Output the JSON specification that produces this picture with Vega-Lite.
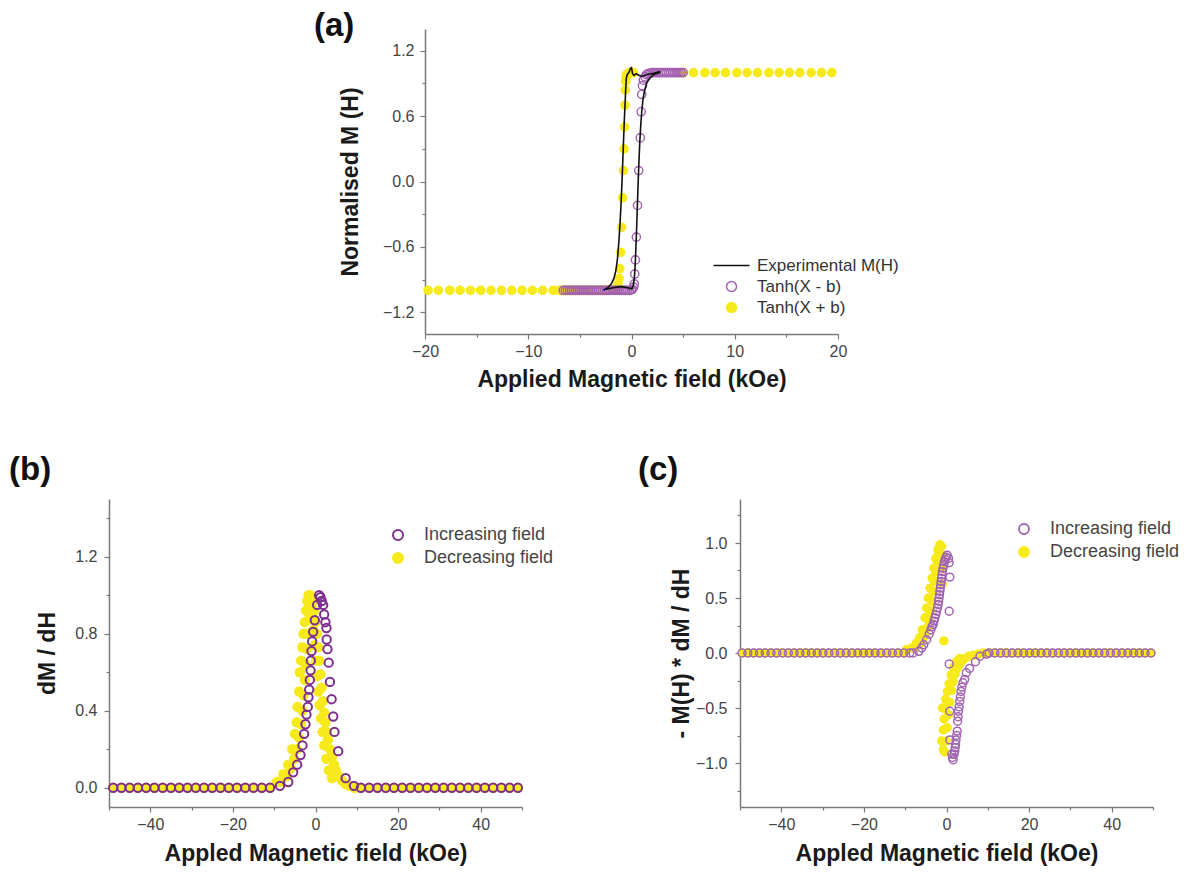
{
  "$schema": "https://vega.github.io/schema/vega-lite/v6.json",
  "background": "white",
  "padding": {"left": 9, "top": 10, "right": 5, "bottom": 5},
  "config": {
    "view": {"stroke": null},
    "font": "Liberation Sans",
    "axis": {"grid": false, "domainColor": "#7a7a7a", "domainWidth": 1.5, "tickColor": "#7a7a7a", "tickWidth": 1.2, "labelFont": "Liberation Sans", "labelFontSize": 16, "labelColor": "#444444", "titleFont": "Liberation Sans", "titleFontSize": 23, "titleFontWeight": "bold", "titleColor": "#1a1a1a", "labelFlush": false, "labelOverlap": false},
    "title": {"anchor": "start", "frame": "group", "font": "Liberation Sans", "fontSize": 33, "fontWeight": "bold", "color": "#111111"}
  },
  "datasets": {
    "a_line": [
      {"i":0,"x":2.8,"y":1.01,"s":"E"},{"i":1,"x":2.4,"y":1.0,"s":"E"},{"i":2,"x":2.0,"y":0.99,"s":"E"},{"i":3,"x":1.6,"y":0.985,"s":"E"},{"i":4,"x":1.3,"y":0.975,"s":"E"},{"i":5,"x":1.0,"y":0.965,"s":"E"},{"i":6,"x":0.7,"y":0.975,"s":"E"},{"i":7,"x":0.45,"y":0.99,"s":"E"},{"i":8,"x":0.25,"y":0.975,"s":"E"},{"i":9,"x":0.1,"y":0.99,"s":"E"},{"i":10,"x":0.0,"y":1.045,"s":"E"},{"i":11,"x":-0.1,"y":1.04,"s":"E"},{"i":12,"x":-0.25,"y":1.0,"s":"E"},{"i":13,"x":-0.4,"y":0.985,"s":"E"},{"i":14,"x":-0.5,"y":0.95,"s":"E"},{"i":15,"x":-0.56,"y":0.85,"s":"E"},{"i":16,"x":-0.62,"y":0.72,"s":"E"},{"i":17,"x":-0.7,"y":0.55,"s":"E"},{"i":18,"x":-0.78,"y":0.35,"s":"E"},{"i":19,"x":-0.86,"y":0.15,"s":"E"},{"i":20,"x":-0.94,"y":-0.05,"s":"E"},{"i":21,"x":-1.02,"y":-0.22,"s":"E"},{"i":22,"x":-1.12,"y":-0.4,"s":"E"},{"i":23,"x":-1.22,"y":-0.55,"s":"E"},{"i":24,"x":-1.35,"y":-0.7,"s":"E"},{"i":25,"x":-1.5,"y":-0.81,"s":"E"},{"i":26,"x":-1.7,"y":-0.89,"s":"E"},{"i":27,"x":-1.95,"y":-0.94,"s":"E"},{"i":28,"x":-2.3,"y":-0.975,"s":"E"},{"i":29,"x":-2.75,"y":-1.0,"s":"E"},
      {"i":30,"x":-2.6,"y":-0.99,"s":"E"},{"i":31,"x":-2.2,"y":-0.985,"s":"E"},{"i":32,"x":-1.8,"y":-0.975,"s":"E"},{"i":33,"x":-1.4,"y":-0.97,"s":"E"},{"i":34,"x":-1.0,"y":-0.965,"s":"E"},{"i":35,"x":-0.7,"y":-0.97,"s":"E"},{"i":36,"x":-0.4,"y":-0.975,"s":"E"},{"i":37,"x":-0.15,"y":-0.98,"s":"E"},{"i":38,"x":0.05,"y":-0.985,"s":"E"},{"i":39,"x":0.18,"y":-0.95,"s":"E"},{"i":40,"x":0.28,"y":-0.88,"s":"E"},{"i":41,"x":0.36,"y":-0.76,"s":"E"},{"i":42,"x":0.43,"y":-0.6,"s":"E"},{"i":43,"x":0.5,"y":-0.42,"s":"E"},{"i":44,"x":0.57,"y":-0.22,"s":"E"},{"i":45,"x":0.64,"y":-0.02,"s":"E"},{"i":46,"x":0.72,"y":0.18,"s":"E"},{"i":47,"x":0.8,"y":0.36,"s":"E"},{"i":48,"x":0.9,"y":0.52,"s":"E"},{"i":49,"x":1.0,"y":0.65,"s":"E"},{"i":50,"x":1.12,"y":0.76,"s":"E"},{"i":51,"x":1.28,"y":0.84,"s":"E"},{"i":52,"x":1.5,"y":0.91,"s":"E"},{"i":53,"x":1.8,"y":0.95,"s":"E"},{"i":54,"x":2.2,"y":0.985,"s":"E"},{"i":55,"x":2.8,"y":1.0,"s":"E"}
    ],
    "a_pts": [
      {"x":-19.7,"y":-1,"s":"P"},{"x":-18.7,"y":-1,"s":"P"},{"x":-17.6,"y":-1,"s":"P"},{"x":-16.6,"y":-1,"s":"P"},{"x":-15.6,"y":-1,"s":"P"},{"x":-14.6,"y":-1,"s":"P"},{"x":-13.6,"y":-1,"s":"P"},{"x":-12.6,"y":-1,"s":"P"},{"x":-11.6,"y":-1,"s":"P"},{"x":-10.6,"y":-1,"s":"P"},{"x":-9.6,"y":-1,"s":"P"},{"x":-8.6,"y":-1,"s":"P"},{"x":-7.6,"y":-1,"s":"P"},
      {"x":-7.0,"y":-1,"s":"P"},{"x":-6.8,"y":-1,"s":"P"},{"x":-6.6,"y":-1,"s":"P"},{"x":-6.4,"y":-1,"s":"P"},{"x":-6.2,"y":-1,"s":"P"},{"x":-6.0,"y":-1,"s":"P"},{"x":-5.8,"y":-1,"s":"P"},{"x":-5.6,"y":-1,"s":"P"},{"x":-5.4,"y":-1,"s":"P"},{"x":-5.2,"y":-1,"s":"P"},{"x":-5.0,"y":-1,"s":"P"},{"x":-4.8,"y":-1,"s":"P"},{"x":-4.6,"y":-1,"s":"P"},{"x":-4.4,"y":-1,"s":"P"},{"x":-4.2,"y":-1,"s":"P"},{"x":-4.0,"y":-1,"s":"P"},{"x":-3.8,"y":-1,"s":"P"},{"x":-3.6,"y":-1,"s":"P"},{"x":-3.4,"y":-1,"s":"P"},{"x":-3.2,"y":-1,"s":"P"},{"x":-3.0,"y":-1,"s":"P"},{"x":-2.8,"y":-1,"s":"P"},{"x":-2.6,"y":-1,"s":"P"},{"x":-2.4,"y":-1,"s":"P"},{"x":-2.2,"y":-0.995,"s":"P"},{"x":-2.0,"y":-0.995,"s":"P"},{"x":-1.8,"y":-0.995,"s":"P"},{"x":-1.6,"y":-0.99,"s":"P"},
      {"x":-1.5,"y":-0.985,"s":"P"},{"x":-1.4,"y":-0.97,"s":"P"},{"x":-1.3,"y":-0.94,"s":"P"},{"x":-1.2,"y":-0.89,"s":"P"},{"x":-1.13,"y":-0.8,"s":"P"},{"x":-1.05,"y":-0.65,"s":"P"},{"x":-0.96,"y":-0.42,"s":"P"},{"x":-0.86,"y":-0.15,"s":"P"},{"x":-0.78,"y":0.1,"s":"P"},{"x":-0.72,"y":0.3,"s":"P"},{"x":-0.67,"y":0.5,"s":"P"},{"x":-0.63,"y":0.7,"s":"P"},{"x":-0.6,"y":0.84,"s":"P"},{"x":-0.56,"y":0.92,"s":"P"},{"x":-0.52,"y":0.96,"s":"P"},{"x":-0.48,"y":0.98,"s":"P"},
      {"x":-0.4,"y":0.99,"s":"P"},{"x":-0.2,"y":1,"s":"P"},{"x":0.0,"y":1,"s":"P"},{"x":0.2,"y":1,"s":"P"},
      {"x":5.0,"y":1,"s":"P"},{"x":6.0,"y":1,"s":"P"},{"x":7.1,"y":1,"s":"P"},{"x":8.1,"y":1,"s":"P"},{"x":9.1,"y":1,"s":"P"},{"x":10.2,"y":1,"s":"P"},{"x":11.2,"y":1,"s":"P"},{"x":12.2,"y":1,"s":"P"},{"x":13.3,"y":1,"s":"P"},{"x":14.3,"y":1,"s":"P"},{"x":15.3,"y":1,"s":"P"},{"x":16.3,"y":1,"s":"P"},{"x":17.4,"y":1,"s":"P"},{"x":18.4,"y":1,"s":"P"},{"x":19.4,"y":1,"s":"P"},
      {"x":-6.6,"y":-1,"s":"M"},{"x":-6.4,"y":-1,"s":"M"},{"x":-6.2,"y":-1,"s":"M"},{"x":-6.0,"y":-1,"s":"M"},{"x":-5.8,"y":-1,"s":"M"},{"x":-5.6,"y":-1,"s":"M"},{"x":-5.4,"y":-1,"s":"M"},{"x":-5.2,"y":-1,"s":"M"},{"x":-5.0,"y":-1,"s":"M"},{"x":-4.8,"y":-1,"s":"M"},{"x":-4.6,"y":-1,"s":"M"},{"x":-4.4,"y":-1,"s":"M"},{"x":-4.2,"y":-1,"s":"M"},{"x":-4.0,"y":-1,"s":"M"},{"x":-3.8,"y":-1,"s":"M"},{"x":-3.6,"y":-1,"s":"M"},{"x":-3.4,"y":-1,"s":"M"},{"x":-3.2,"y":-1,"s":"M"},{"x":-3.0,"y":-1,"s":"M"},{"x":-2.8,"y":-1,"s":"M"},{"x":-2.6,"y":-1,"s":"M"},{"x":-2.4,"y":-1,"s":"M"},{"x":-2.2,"y":-1,"s":"M"},{"x":-2.0,"y":-1,"s":"M"},{"x":-1.8,"y":-1,"s":"M"},{"x":-1.6,"y":-1,"s":"M"},{"x":-1.4,"y":-1,"s":"M"},{"x":-1.2,"y":-1,"s":"M"},{"x":-1.0,"y":-1,"s":"M"},{"x":-0.8,"y":-1,"s":"M"},{"x":-0.6,"y":-1,"s":"M"},{"x":-0.4,"y":-1,"s":"M"},{"x":-0.2,"y":-1,"s":"M"},{"x":0.0,"y":-0.995,"s":"M"},
      {"x":0.1,"y":-0.99,"s":"M"},{"x":0.2,"y":-0.97,"s":"M"},{"x":0.27,"y":-0.94,"s":"M"},{"x":0.32,"y":-0.85,"s":"M"},{"x":0.38,"y":-0.72,"s":"M"},{"x":0.47,"y":-0.51,"s":"M"},{"x":0.58,"y":-0.22,"s":"M"},{"x":0.7,"y":0.1,"s":"M"},{"x":0.85,"y":0.4,"s":"M"},{"x":0.94,"y":0.64,"s":"M"},{"x":0.99,"y":0.8,"s":"M"},{"x":1.06,"y":0.88,"s":"M"},{"x":1.15,"y":0.93,"s":"M"},{"x":1.3,"y":0.96,"s":"M"},{"x":1.45,"y":0.98,"s":"M"},
      {"x":1.6,"y":0.99,"s":"M"},{"x":1.8,"y":0.995,"s":"M"},{"x":2.0,"y":1,"s":"M"},{"x":2.2,"y":1,"s":"M"},{"x":2.4,"y":1,"s":"M"},{"x":2.6,"y":1,"s":"M"},{"x":2.8,"y":1,"s":"M"},{"x":3.0,"y":1,"s":"M"},{"x":3.2,"y":1,"s":"M"},{"x":3.4,"y":1,"s":"M"},{"x":3.6,"y":1,"s":"M"},{"x":3.8,"y":1,"s":"M"},{"x":4.0,"y":1,"s":"M"},{"x":4.2,"y":1,"s":"M"},{"x":4.4,"y":1,"s":"M"},{"x":4.6,"y":1,"s":"M"},{"x":4.8,"y":1,"s":"M"},{"x":5.0,"y":1,"s":"M"}
    ],
    "b_pts": [
      {"x":-49,"y":0,"s":"D"},{"x":-47,"y":0,"s":"D"},{"x":-45,"y":0,"s":"D"},{"x":-43,"y":0,"s":"D"},{"x":-41,"y":0,"s":"D"},{"x":-39,"y":0,"s":"D"},{"x":-37,"y":0,"s":"D"},{"x":-35,"y":0,"s":"D"},{"x":-33,"y":0,"s":"D"},{"x":-31,"y":0,"s":"D"},{"x":-29,"y":0,"s":"D"},{"x":-27,"y":0,"s":"D"},{"x":-25,"y":0,"s":"D"},{"x":-23,"y":0,"s":"D"},{"x":-21,"y":0,"s":"D"},{"x":-19,"y":0,"s":"D"},{"x":-17,"y":0,"s":"D"},{"x":-15,"y":0,"s":"D"},{"x":-13,"y":0,"s":"D"},{"x":-11,"y":0,"s":"D"},
      {"x":-9.4,"y":0.03,"s":"D"},{"x":-7.8,"y":0.07,"s":"D"},{"x":-6.6,"y":0.12,"s":"D"},{"x":-5.65,"y":0.2,"s":"D"},{"x":-5.0,"y":0.28,"s":"D"},{"x":-4.6,"y":0.34,"s":"D"},{"x":-4.36,"y":0.42,"s":"D"},{"x":-3.96,"y":0.5,"s":"D"},{"x":-3.8,"y":0.6,"s":"D"},{"x":-3.5,"y":0.66,"s":"D"},{"x":-3.2,"y":0.73,"s":"D"},{"x":-2.9,"y":0.8,"s":"D"},{"x":-2.6,"y":0.86,"s":"D"},{"x":-2.3,"y":0.92,"s":"D"},{"x":-2.0,"y":0.97,"s":"D"},{"x":-1.7,"y":1.0,"s":"D"},
      {"x":-8.5,"y":0.03,"s":"D"},{"x":-7.0,"y":0.06,"s":"D"},{"x":-6.0,"y":0.1,"s":"D"},{"x":-5.2,"y":0.15,"s":"D"},{"x":-4.5,"y":0.2,"s":"D"},{"x":-4.0,"y":0.26,"s":"D"},{"x":-3.5,"y":0.33,"s":"D"},{"x":-3.2,"y":0.4,"s":"D"},{"x":-2.9,"y":0.48,"s":"D"},{"x":-2.6,"y":0.56,"s":"D"},{"x":-2.4,"y":0.64,"s":"D"},{"x":-2.1,"y":0.72,"s":"D"},{"x":-1.8,"y":0.8,"s":"D"},{"x":-1.5,"y":0.88,"s":"D"},{"x":-1.2,"y":0.95,"s":"D"},{"x":-1.0,"y":0.99,"s":"D"},{"x":-1.3,"y":1.0,"s":"D"},
      {"x":-0.6,"y":0.97,"s":"D"},{"x":-0.3,"y":0.92,"s":"D"},{"x":0.0,"y":0.86,"s":"D"},{"x":0.3,"y":0.8,"s":"D"},{"x":0.6,"y":0.73,"s":"D"},{"x":0.9,"y":0.66,"s":"D"},{"x":1.2,"y":0.59,"s":"D"},{"x":1.5,"y":0.52,"s":"D"},{"x":1.8,"y":0.45,"s":"D"},{"x":2.1,"y":0.39,"s":"D"},{"x":2.4,"y":0.34,"s":"D"},{"x":2.7,"y":0.29,"s":"D"},{"x":3.0,"y":0.25,"s":"D"},{"x":3.5,"y":0.2,"s":"D"},{"x":4.0,"y":0.16,"s":"D"},{"x":4.5,"y":0.12,"s":"D"},{"x":5.0,"y":0.09,"s":"D"},{"x":5.6,"y":0.06,"s":"D"},{"x":6.3,"y":0.04,"s":"D"},{"x":7.2,"y":0.02,"s":"D"},{"x":8.2,"y":0.01,"s":"D"},
      {"x":-0.8,"y":0.9,"s":"D"},{"x":-0.5,"y":0.82,"s":"D"},{"x":-0.2,"y":0.74,"s":"D"},{"x":0.1,"y":0.66,"s":"D"},{"x":0.4,"y":0.58,"s":"D"},{"x":0.7,"y":0.5,"s":"D"},{"x":1.0,"y":0.43,"s":"D"},{"x":1.3,"y":0.36,"s":"D"},{"x":1.7,"y":0.29,"s":"D"},{"x":2.1,"y":0.22,"s":"D"},{"x":2.6,"y":0.15,"s":"D"},{"x":3.2,"y":0.09,"s":"D"},{"x":4.0,"y":0.05,"s":"D"},
      {"x":9.5,"y":0,"s":"D"},{"x":11,"y":0,"s":"D"},{"x":13,"y":0,"s":"D"},{"x":15,"y":0,"s":"D"},{"x":17,"y":0,"s":"D"},{"x":19,"y":0,"s":"D"},{"x":21,"y":0,"s":"D"},{"x":23,"y":0,"s":"D"},{"x":25,"y":0,"s":"D"},{"x":27,"y":0,"s":"D"},{"x":29,"y":0,"s":"D"},{"x":31,"y":0,"s":"D"},{"x":33,"y":0,"s":"D"},{"x":35,"y":0,"s":"D"},{"x":37,"y":0,"s":"D"},{"x":39,"y":0,"s":"D"},{"x":41,"y":0,"s":"D"},{"x":43,"y":0,"s":"D"},{"x":45,"y":0,"s":"D"},{"x":47,"y":0,"s":"D"},{"x":49,"y":0,"s":"D"},
      {"x":-49,"y":0,"s":"I"},{"x":-47,"y":0,"s":"I"},{"x":-45,"y":0,"s":"I"},{"x":-43,"y":0,"s":"I"},{"x":-41,"y":0,"s":"I"},{"x":-39,"y":0,"s":"I"},{"x":-37,"y":0,"s":"I"},{"x":-35,"y":0,"s":"I"},{"x":-33,"y":0,"s":"I"},{"x":-31,"y":0,"s":"I"},{"x":-29,"y":0,"s":"I"},{"x":-27,"y":0,"s":"I"},{"x":-25,"y":0,"s":"I"},{"x":-23,"y":0,"s":"I"},{"x":-21,"y":0,"s":"I"},{"x":-19,"y":0,"s":"I"},{"x":-17,"y":0,"s":"I"},{"x":-15,"y":0,"s":"I"},{"x":-13,"y":0,"s":"I"},{"x":-11,"y":0,"s":"I"},
      {"x":-8.6,"y":0.01,"s":"I"},{"x":-6.6,"y":0.03,"s":"I"},{"x":-5.4,"y":0.08,"s":"I"},{"x":-4.44,"y":0.12,"s":"I"},{"x":-3.63,"y":0.17,"s":"I"},{"x":-3.15,"y":0.22,"s":"I"},{"x":-2.75,"y":0.28,"s":"I"},{"x":-2.42,"y":0.33,"s":"I"},{"x":-2.18,"y":0.38,"s":"I"},{"x":-1.86,"y":0.42,"s":"I"},{"x":-1.7,"y":0.47,"s":"I"},{"x":-1.53,"y":0.51,"s":"I"},{"x":-1.37,"y":0.56,"s":"I"},{"x":-1.2,"y":0.61,"s":"I"},{"x":-1.13,"y":0.66,"s":"I"},{"x":-0.97,"y":0.71,"s":"I"},{"x":-0.81,"y":0.76,"s":"I"},{"x":-0.57,"y":0.81,"s":"I"},{"x":-0.17,"y":0.87,"s":"I"},{"x":0.4,"y":0.95,"s":"I"},{"x":0.88,"y":1.0,"s":"I"},
      {"x":1.2,"y":0.99,"s":"I"},{"x":1.5,"y":0.97,"s":"I"},{"x":1.85,"y":0.95,"s":"I"},{"x":2.1,"y":0.9,"s":"I"},{"x":2.4,"y":0.86,"s":"I"},{"x":2.65,"y":0.83,"s":"I"},{"x":2.7,"y":0.77,"s":"I"},{"x":2.9,"y":0.72,"s":"I"},{"x":3.2,"y":0.65,"s":"I"},{"x":3.5,"y":0.55,"s":"I"},{"x":3.9,"y":0.46,"s":"I"},{"x":4.3,"y":0.37,"s":"I"},{"x":4.6,"y":0.29,"s":"I"},{"x":5.5,"y":0.19,"s":"I"},{"x":7.3,"y":0.05,"s":"I"},{"x":9.3,"y":0.01,"s":"I"},
      {"x":11,"y":0,"s":"I"},{"x":13,"y":0,"s":"I"},{"x":15,"y":0,"s":"I"},{"x":17,"y":0,"s":"I"},{"x":19,"y":0,"s":"I"},{"x":21,"y":0,"s":"I"},{"x":23,"y":0,"s":"I"},{"x":25,"y":0,"s":"I"},{"x":27,"y":0,"s":"I"},{"x":29,"y":0,"s":"I"},{"x":31,"y":0,"s":"I"},{"x":33,"y":0,"s":"I"},{"x":35,"y":0,"s":"I"},{"x":37,"y":0,"s":"I"},{"x":39,"y":0,"s":"I"},{"x":41,"y":0,"s":"I"},{"x":43,"y":0,"s":"I"},{"x":45,"y":0,"s":"I"},{"x":47,"y":0,"s":"I"},{"x":49,"y":0,"s":"I"}
    ],
    "c_pts": [
      {"x":-49.5,"y":0,"s":"D"},{"x":-48.1,"y":0,"s":"D"},{"x":-46.7,"y":0,"s":"D"},{"x":-45.3,"y":0,"s":"D"},{"x":-43.9,"y":0,"s":"D"},{"x":-42.5,"y":0,"s":"D"},{"x":-41.1,"y":0,"s":"D"},{"x":-39.7,"y":0,"s":"D"},{"x":-38.3,"y":0,"s":"D"},{"x":-36.9,"y":0,"s":"D"},{"x":-35.5,"y":0,"s":"D"},{"x":-34.1,"y":0,"s":"D"},{"x":-32.7,"y":0,"s":"D"},{"x":-31.3,"y":0,"s":"D"},{"x":-29.9,"y":0,"s":"D"},{"x":-28.5,"y":0,"s":"D"},{"x":-27.1,"y":0,"s":"D"},{"x":-25.7,"y":0,"s":"D"},{"x":-24.3,"y":0,"s":"D"},{"x":-22.9,"y":0,"s":"D"},{"x":-21.5,"y":0,"s":"D"},{"x":-20.1,"y":0,"s":"D"},{"x":-18.7,"y":0,"s":"D"},{"x":-17.3,"y":0,"s":"D"},{"x":-15.9,"y":0,"s":"D"},{"x":-14.5,"y":0,"s":"D"},{"x":-13.1,"y":0,"s":"D"},{"x":-11.7,"y":0,"s":"D"},{"x":-10.3,"y":0,"s":"D"},
      {"x":-9.7,"y":0.03,"s":"D"},{"x":-8.5,"y":0.045,"s":"D"},{"x":-7.3,"y":0.09,"s":"D"},{"x":-6.5,"y":0.14,"s":"D"},{"x":-5.9,"y":0.21,"s":"D"},{"x":-5.2,"y":0.32,"s":"D"},{"x":-4.8,"y":0.41,"s":"D"},{"x":-4.4,"y":0.5,"s":"D"},{"x":-4.0,"y":0.59,"s":"D"},{"x":-3.5,"y":0.68,"s":"D"},{"x":-3.1,"y":0.77,"s":"D"},{"x":-2.6,"y":0.86,"s":"D"},{"x":-2.1,"y":0.94,"s":"D"},{"x":-1.6,"y":0.985,"s":"D"},{"x":-1.2,"y":0.97,"s":"D"},{"x":-1.0,"y":0.89,"s":"D"},{"x":-1.0,"y":0.77,"s":"D"},{"x":-1.0,"y":0.63,"s":"D"},
      {"x":-7.5,"y":0.05,"s":"D"},{"x":-6.5,"y":0.08,"s":"D"},{"x":-5.8,"y":0.12,"s":"D"},{"x":-5.2,"y":0.17,"s":"D"},{"x":-4.7,"y":0.23,"s":"D"},{"x":-4.3,"y":0.3,"s":"D"},{"x":-3.9,"y":0.38,"s":"D"},{"x":-3.5,"y":0.47,"s":"D"},{"x":-3.2,"y":0.56,"s":"D"},{"x":-2.9,"y":0.65,"s":"D"},{"x":-2.6,"y":0.74,"s":"D"},{"x":-2.2,"y":0.83,"s":"D"},{"x":-1.9,"y":0.9,"s":"D"},
      {"x":-0.65,"y":0.11,"s":"D"},
      {"x":-1.0,"y":-0.5,"s":"D"},{"x":-1.2,"y":-0.8,"s":"D"},{"x":-0.8,"y":-0.88,"s":"D"},{"x":-0.4,"y":-0.9,"s":"D"},{"x":-0.1,"y":-0.8,"s":"D"},{"x":0.2,"y":-0.68,"s":"D"},{"x":0.5,"y":-0.56,"s":"D"},{"x":0.8,"y":-0.45,"s":"D"},{"x":1.2,"y":-0.34,"s":"D"},{"x":1.6,"y":-0.26,"s":"D"},{"x":2.1,"y":-0.19,"s":"D"},{"x":2.6,"y":-0.14,"s":"D"},{"x":3.2,"y":-0.1,"s":"D"},{"x":3.8,"y":-0.07,"s":"D"},{"x":4.4,"y":-0.05,"s":"D"},{"x":5.4,"y":-0.03,"s":"D"},{"x":6.5,"y":-0.02,"s":"D"},{"x":7.7,"y":-0.01,"s":"D"},
      {"x":-0.8,"y":-0.7,"s":"D"},{"x":-0.6,"y":-0.6,"s":"D"},{"x":-0.4,"y":-0.5,"s":"D"},{"x":-0.2,"y":-0.42,"s":"D"},{"x":0.2,"y":-0.35,"s":"D"},{"x":0.6,"y":-0.28,"s":"D"},{"x":1.1,"y":-0.2,"s":"D"},{"x":1.7,"y":-0.13,"s":"D"},{"x":2.4,"y":-0.08,"s":"D"},{"x":3.2,"y":-0.05,"s":"D"},
      {"x":8.9,"y":0,"s":"D"},{"x":10.3,"y":0,"s":"D"},{"x":11.7,"y":0,"s":"D"},{"x":13.1,"y":0,"s":"D"},{"x":14.5,"y":0,"s":"D"},{"x":15.9,"y":0,"s":"D"},{"x":17.3,"y":0,"s":"D"},{"x":18.7,"y":0,"s":"D"},{"x":20.1,"y":0,"s":"D"},{"x":21.5,"y":0,"s":"D"},{"x":22.9,"y":0,"s":"D"},{"x":24.3,"y":0,"s":"D"},{"x":25.7,"y":0,"s":"D"},{"x":27.1,"y":0,"s":"D"},{"x":28.5,"y":0,"s":"D"},{"x":29.9,"y":0,"s":"D"},{"x":31.3,"y":0,"s":"D"},{"x":32.7,"y":0,"s":"D"},{"x":34.1,"y":0,"s":"D"},{"x":35.5,"y":0,"s":"D"},{"x":36.9,"y":0,"s":"D"},{"x":38.3,"y":0,"s":"D"},{"x":39.7,"y":0,"s":"D"},{"x":41.1,"y":0,"s":"D"},{"x":42.5,"y":0,"s":"D"},{"x":43.9,"y":0,"s":"D"},{"x":45.3,"y":0,"s":"D"},{"x":46.7,"y":0,"s":"D"},{"x":48.1,"y":0,"s":"D"},{"x":49.5,"y":0,"s":"D"},
      {"x":-49.5,"y":0,"s":"I"},{"x":-48.1,"y":0,"s":"I"},{"x":-46.7,"y":0,"s":"I"},{"x":-45.3,"y":0,"s":"I"},{"x":-43.9,"y":0,"s":"I"},{"x":-42.5,"y":0,"s":"I"},{"x":-41.1,"y":0,"s":"I"},{"x":-39.7,"y":0,"s":"I"},{"x":-38.3,"y":0,"s":"I"},{"x":-36.9,"y":0,"s":"I"},{"x":-35.5,"y":0,"s":"I"},{"x":-34.1,"y":0,"s":"I"},{"x":-32.7,"y":0,"s":"I"},{"x":-31.3,"y":0,"s":"I"},{"x":-29.9,"y":0,"s":"I"},{"x":-28.5,"y":0,"s":"I"},{"x":-27.1,"y":0,"s":"I"},{"x":-25.7,"y":0,"s":"I"},{"x":-24.3,"y":0,"s":"I"},{"x":-22.9,"y":0,"s":"I"},{"x":-21.5,"y":0,"s":"I"},{"x":-20.1,"y":0,"s":"I"},{"x":-18.7,"y":0,"s":"I"},{"x":-17.3,"y":0,"s":"I"},{"x":-15.9,"y":0,"s":"I"},{"x":-14.5,"y":0,"s":"I"},{"x":-13.1,"y":0,"s":"I"},{"x":-11.7,"y":0,"s":"I"},{"x":-10.3,"y":0,"s":"I"},{"x":-8.9,"y":0,"s":"I"},
      {"x":-8.1,"y":0.0,"s":"I"},{"x":-6.7,"y":0.015,"s":"I"},{"x":-6.0,"y":0.045,"s":"I"},{"x":-5.5,"y":0.075,"s":"I"},{"x":-4.8,"y":0.12,"s":"I"},{"x":-4.2,"y":0.17,"s":"I"},{"x":-3.8,"y":0.21,"s":"I"},{"x":-3.5,"y":0.24,"s":"I"},{"x":-3.2,"y":0.26,"s":"I"},{"x":-3.0,"y":0.29,"s":"I"},{"x":-2.8,"y":0.32,"s":"I"},{"x":-2.6,"y":0.35,"s":"I"},{"x":-2.4,"y":0.38,"s":"I"},{"x":-2.2,"y":0.41,"s":"I"},{"x":-2.0,"y":0.44,"s":"I"},{"x":-1.9,"y":0.47,"s":"I"},{"x":-1.8,"y":0.5,"s":"I"},{"x":-1.7,"y":0.53,"s":"I"},{"x":-1.6,"y":0.56,"s":"I"},{"x":-1.5,"y":0.59,"s":"I"},{"x":-1.4,"y":0.62,"s":"I"},{"x":-1.3,"y":0.65,"s":"I"},{"x":-1.2,"y":0.68,"s":"I"},{"x":-1.1,"y":0.71,"s":"I"},{"x":-1.0,"y":0.74,"s":"I"},{"x":-0.85,"y":0.77,"s":"I"},{"x":-0.65,"y":0.8,"s":"I"},{"x":-0.5,"y":0.83,"s":"I"},{"x":-0.3,"y":0.85,"s":"I"},{"x":-0.1,"y":0.87,"s":"I"},{"x":0.15,"y":0.89,"s":"I"},{"x":0.5,"y":0.86,"s":"I"},{"x":0.65,"y":0.82,"s":"I"},{"x":0.8,"y":0.69,"s":"I"},{"x":0.65,"y":0.38,"s":"I"},
      {"x":0.65,"y":-0.1,"s":"I"},
      {"x":0.8,"y":-0.53,"s":"I"},{"x":0.8,"y":-0.79,"s":"I"},{"x":1.3,"y":-0.92,"s":"I"},{"x":1.45,"y":-0.95,"s":"I"},{"x":1.6,"y":-0.97,"s":"I"},{"x":1.85,"y":-0.92,"s":"I"},{"x":2.0,"y":-0.89,"s":"I"},{"x":2.1,"y":-0.86,"s":"I"},{"x":2.2,"y":-0.83,"s":"I"},{"x":2.3,"y":-0.79,"s":"I"},{"x":2.45,"y":-0.75,"s":"I"},{"x":2.6,"y":-0.71,"s":"I"},{"x":2.7,"y":-0.62,"s":"I"},{"x":2.8,"y":-0.58,"s":"I"},{"x":2.9,"y":-0.53,"s":"I"},{"x":3.05,"y":-0.49,"s":"I"},{"x":3.2,"y":-0.44,"s":"I"},{"x":3.35,"y":-0.4,"s":"I"},{"x":3.5,"y":-0.35,"s":"I"},{"x":3.7,"y":-0.31,"s":"I"},{"x":4.0,"y":-0.27,"s":"I"},{"x":4.4,"y":-0.24,"s":"I"},{"x":4.8,"y":-0.18,"s":"I"},{"x":5.6,"y":-0.14,"s":"I"},{"x":7.0,"y":-0.08,"s":"I"},{"x":8.1,"y":-0.03,"s":"I"},{"x":9.7,"y":-0.01,"s":"I"},
      {"x":10.3,"y":0,"s":"I"},{"x":11.7,"y":0,"s":"I"},{"x":13.1,"y":0,"s":"I"},{"x":14.5,"y":0,"s":"I"},{"x":15.9,"y":0,"s":"I"},{"x":17.3,"y":0,"s":"I"},{"x":18.7,"y":0,"s":"I"},{"x":20.1,"y":0,"s":"I"},{"x":21.5,"y":0,"s":"I"},{"x":22.9,"y":0,"s":"I"},{"x":24.3,"y":0,"s":"I"},{"x":25.7,"y":0,"s":"I"},{"x":27.1,"y":0,"s":"I"},{"x":28.5,"y":0,"s":"I"},{"x":29.9,"y":0,"s":"I"},{"x":31.3,"y":0,"s":"I"},{"x":32.7,"y":0,"s":"I"},{"x":34.1,"y":0,"s":"I"},{"x":35.5,"y":0,"s":"I"},{"x":36.9,"y":0,"s":"I"},{"x":38.3,"y":0,"s":"I"},{"x":39.7,"y":0,"s":"I"},{"x":41.1,"y":0,"s":"I"},{"x":42.5,"y":0,"s":"I"},{"x":43.9,"y":0,"s":"I"},{"x":45.3,"y":0,"s":"I"},{"x":46.7,"y":0,"s":"I"},{"x":48.1,"y":0,"s":"I"},{"x":49.5,"y":0,"s":"I"}
    ],
    "spacer": [{"k": 0}]
  },
  "bounds": "flush",
  "spacing": 470,
  "resolve": {"scale": {"stroke": "independent", "fill": "independent", "shape": "independent"}, "legend": {"stroke": "independent", "fill": "independent", "shape": "independent"}},
  "vconcat": [
    {
      "bounds": "flush",
      "spacing": 218,
      "resolve": {"scale": {"stroke": "independent", "fill": "independent", "shape": "independent"}, "legend": {"stroke": "independent", "fill": "independent", "shape": "independent"}},
      "hconcat": [
        {
          "width": 98, "height": 300,
          "data": {"name": "spacer"},
          "mark": {"type": "text", "text": ""},
          "encoding": {}
        },
        {
          "title": {"text": "(a)", "dx": -111, "offset": -14},
          "width": 413, "height": 305,
          "encoding": {
            "x": {"field": "x", "type": "quantitative", "scale": {"domain": [-20, 20], "nice": false, "zero": false},
              "axis": {"title": "Applied Magnetic field (kOe)", "values": [-20,-15,-10,-5,0,5,10,15,20], "format": "d",
                "labelExpr": "datum.value % 10 == 0 ? datum.label : ''",
                "tickSize": {"condition": {"test": "datum.value % 10 != 0", "value": 3}, "value": 5},
                "labelPadding": 4, "titlePadding": 9}},
            "y": {"field": "y", "type": "quantitative", "scale": {"domain": [-1.4, 1.4], "nice": false, "zero": false},
              "axis": {"title": "Normalised M (H)", "values": [-1.2,-0.9,-0.6,-0.3,0,0.3,0.6,0.9,1.2], "format": ".1f",
                "labelExpr": "abs(round(datum.value*10)) % 6 == 0 ? datum.label : ''",
                "tickSize": {"condition": {"test": "abs(round(datum.value*10)) % 6 != 0", "value": 3}, "value": 5},
                "labelPadding": 6, "titlePadding": 20}},
            "stroke": {"field": "s", "type": "nominal", "scale": {"domain": ["E","M","P"], "range": ["#111111", "#a35fb0", "#f6ea1c"]},
              "legend": {"orient": "none", "legendX": 298, "legendY": 228, "title": null, "direction": "vertical", "labelExpr": "datum.label == 'E' ? 'Experimental M(H)' : datum.label == 'M' ? 'Tanh(X - b)' : 'Tanh(X + b)'", "symbolSize": 100, "symbolStrokeWidth": 1.5, "labelFontSize": 17, "labelColor": "#333333", "labelOffset": 17, "rowPadding": 3}}
          },
          "layer": [
            {
              "data": {"name": "a_pts"},
              "mark": {"type": "point", "filled": true, "size": 68, "strokeWidth": 1.4, "opacity": 1},
              "encoding": {
                "fill": {"field": "s", "type": "nominal", "scale": {"domain": ["E","M","P"], "range": ["transparent", "transparent", "#f6ea1c"]},
                  "legend": {"orient": "none", "legendX": 298, "legendY": 228, "title": null, "direction": "vertical", "labelExpr": "datum.label == 'E' ? 'Experimental M(H)' : datum.label == 'M' ? 'Tanh(X - b)' : 'Tanh(X + b)'", "symbolSize": 100, "symbolStrokeWidth": 1.5, "labelFontSize": 17, "labelColor": "#333333", "labelOffset": 17, "rowPadding": 3}},
                "shape": {"field": "s", "type": "nominal", "scale": {"domain": ["E","M","P"], "range": ["M-3.6,0L3.6,0", "circle", "circle"]},
                  "legend": {"orient": "none", "legendX": 298, "legendY": 228, "title": null, "direction": "vertical", "labelExpr": "datum.label == 'E' ? 'Experimental M(H)' : datum.label == 'M' ? 'Tanh(X - b)' : 'Tanh(X + b)'", "symbolSize": 100, "symbolStrokeWidth": 1.5, "labelFontSize": 17, "labelColor": "#333333", "labelOffset": 17, "rowPadding": 3}}
              }
            },
            {
              "data": {"name": "a_line"},
              "mark": {"type": "line", "strokeWidth": 1.6},
              "encoding": {"order": {"field": "i", "type": "quantitative"}}
            }
          ]
        }
      ]
    },
    {
      "bounds": "flush",
      "spacing": 218,
      "resolve": {"scale": {"stroke": "independent", "fill": "independent", "shape": "independent"}, "legend": {"stroke": "independent", "fill": "independent", "shape": "independent"}},
      "hconcat": [
        {
          "title": {"text": "(b)", "dx": -100, "offset": 12},
          "width": 413, "height": 308,
          "data": {"name": "b_pts"},
          "mark": {"type": "point", "filled": true, "size": 70, "strokeWidth": 2, "opacity": 1},
          "encoding": {
            "x": {"field": "x", "type": "quantitative", "scale": {"domain": [-50, 50], "nice": false, "zero": false},
              "axis": {"title": "Appled Magnetic field (kOe)", "values": [-50,-40,-30,-20,-10,0,10,20,30,40,50], "format": "d",
                "labelExpr": "datum.value % 20 == 0 ? datum.label : ''",
                "tickSize": {"condition": {"test": "datum.value % 20 != 0", "value": 3}, "value": 5},
                "labelPadding": 4, "titlePadding": 10}},
            "y": {"field": "y", "type": "quantitative", "scale": {"domain": [-0.1, 1.5], "nice": false, "zero": false},
              "axis": {"title": "dM / dH", "values": [0,0.2,0.4,0.6,0.8,1.0,1.2,1.4], "format": ".1f",
                "labelExpr": "round(datum.value*10) % 4 == 0 ? datum.label : ''",
                "tickSize": {"condition": {"test": "round(datum.value*10) % 4 != 0", "value": 3}, "value": 5},
                "labelPadding": 7, "titlePadding": 15}},
            "stroke": {"field": "s", "type": "nominal", "scale": {"domain": ["I","D"], "range": ["#7d2e8e", "#f6ea1c"]},
              "legend": {"orient": "none", "legendX": 280, "legendY": 27, "title": null, "direction": "vertical", "labelExpr": "datum.label == 'I' ? 'Increasing field' : 'Decreasing field'", "symbolSize": 100, "symbolStrokeWidth": 2, "labelFontSize": 18, "labelColor": "#444444", "labelOffset": 17, "rowPadding": 5, "symbolType": "circle"}},
            "fill": {"field": "s", "type": "nominal", "scale": {"domain": ["I","D"], "range": ["transparent", "#f6ea1c"]},
              "legend": {"orient": "none", "legendX": 280, "legendY": 27, "title": null, "direction": "vertical", "labelExpr": "datum.label == 'I' ? 'Increasing field' : 'Decreasing field'", "symbolSize": 100, "symbolStrokeWidth": 2, "labelFontSize": 18, "labelColor": "#444444", "labelOffset": 17, "rowPadding": 5, "symbolType": "circle"}}
          }
        },
        {
          "title": {"text": "(c)", "dx": -102, "offset": 12},
          "width": 413, "height": 308,
          "data": {"name": "c_pts"},
          "mark": {"type": "point", "filled": true, "size": 62, "strokeWidth": 1.5, "opacity": 1},
          "encoding": {
            "x": {"field": "x", "type": "quantitative", "scale": {"domain": [-50, 50], "nice": false, "zero": false},
              "axis": {"title": "Appled Magnetic field (kOe)", "values": [-50,-40,-30,-20,-10,0,10,20,30,40,50], "format": "d",
                "labelExpr": "datum.value % 20 == 0 ? datum.label : ''",
                "tickSize": {"condition": {"test": "datum.value % 20 != 0", "value": 3}, "value": 5},
                "labelPadding": 4, "titlePadding": 10}},
            "y": {"field": "y", "type": "quantitative", "scale": {"domain": [-1.4, 1.4], "nice": false, "zero": false},
              "axis": {"title": "- M(H) * dM / dH", "values": [-1.25,-1,-0.75,-0.5,-0.25,0,0.25,0.5,0.75,1,1.25], "format": ".1f",
                "labelExpr": "abs(round(datum.value*100)) % 50 == 0 ? datum.label : ''",
                "tickSize": {"condition": {"test": "abs(round(datum.value*100)) % 50 != 0", "value": 3}, "value": 5},
                "labelPadding": 8, "titlePadding": 2}},
            "stroke": {"field": "s", "type": "nominal", "scale": {"domain": ["I","D"], "range": ["#a064b0", "#f6ea1c"]},
              "legend": {"orient": "none", "legendX": 275, "legendY": 21, "title": null, "direction": "vertical", "labelExpr": "datum.label == 'I' ? 'Increasing field' : 'Decreasing field'", "symbolSize": 100, "symbolStrokeWidth": 1.8, "labelFontSize": 18, "labelColor": "#444444", "labelOffset": 17, "rowPadding": 5, "symbolType": "circle"}},
            "fill": {"field": "s", "type": "nominal", "scale": {"domain": ["I","D"], "range": ["transparent", "#f6ea1c"]},
              "legend": {"orient": "none", "legendX": 275, "legendY": 21, "title": null, "direction": "vertical", "labelExpr": "datum.label == 'I' ? 'Increasing field' : 'Decreasing field'", "symbolSize": 100, "symbolStrokeWidth": 1.8, "labelFontSize": 18, "labelColor": "#444444", "labelOffset": 17, "rowPadding": 5, "symbolType": "circle"}}
          }
        }
      ]
    }
  ]
}
